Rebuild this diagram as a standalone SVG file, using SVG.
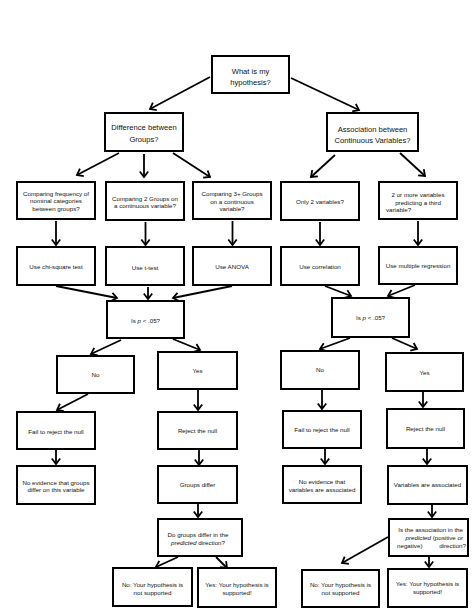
<svg xmlns="http://www.w3.org/2000/svg" width="474" height="613" viewBox="0 0 474 613">
<style>
rect{fill:#fff;stroke:#000;stroke-width:2}
text{font-family:"Liberation Sans",Arial,Helvetica,sans-serif;font-size:6.2px;fill:#111;text-anchor:middle}
.big{font-size:7.6px}
.it{font-style:italic}
#connectors line{stroke:#000;stroke-width:1.8;marker-end:url(#ah)}
</style>
<defs>
<marker id="ah" markerUnits="userSpaceOnUse" viewBox="-7 -6 9 12" refX="0" refY="0" markerWidth="9" markerHeight="12" orient="auto">
<path d="M-5.5,-4.2 L0,0 L-5.5,4.2" fill="none" stroke="#000" stroke-width="1.8" stroke-linejoin="miter"/>
</marker>
</defs>
<rect x="0" y="0" width="474" height="613" style="stroke:none;fill:#fff"/>

<g id="connectors">
<line x1="210" y1="77" x2="150" y2="109"/>
<line x1="291" y1="78" x2="359" y2="110"/>
<line x1="119" y1="153" x2="77" y2="175"/>
<line x1="144" y1="154" x2="144" y2="177"/>
<line x1="173" y1="153" x2="210" y2="177"/>
<line x1="335" y1="155" x2="311" y2="177"/>
<line x1="400" y1="153" x2="425" y2="176"/>
<line x1="56" y1="221" x2="56" y2="245"/>
<line x1="145.5" y1="222" x2="145.5" y2="245"/>
<line x1="232.5" y1="221" x2="232.5" y2="245"/>
<line x1="320" y1="222" x2="320" y2="245"/>
<line x1="418" y1="221" x2="418" y2="245"/>
<line x1="56" y1="286" x2="117" y2="298"/>
<line x1="148" y1="287" x2="148" y2="299"/>
<line x1="232" y1="286" x2="173" y2="298"/>
<line x1="325" y1="286" x2="351" y2="296"/>
<line x1="415" y1="285" x2="388" y2="296"/>
<line x1="121" y1="340" x2="91" y2="354"/>
<line x1="173" y1="339" x2="200" y2="350"/>
<line x1="350" y1="338" x2="320" y2="349"/>
<line x1="392" y1="338" x2="417" y2="349"/>
<line x1="88" y1="394" x2="57" y2="410"/>
<line x1="198" y1="390" x2="198" y2="410"/>
<line x1="322" y1="390" x2="322" y2="409"/>
<line x1="423" y1="392" x2="423" y2="407"/>
<line x1="56" y1="450" x2="56" y2="464"/>
<line x1="199" y1="450" x2="199" y2="465"/>
<line x1="325" y1="449" x2="325" y2="464"/>
<line x1="427" y1="449" x2="427" y2="464"/>
<line x1="198" y1="504" x2="198" y2="517"/>
<line x1="432" y1="505" x2="432" y2="517"/>
<line x1="178" y1="557" x2="156" y2="567"/>
<line x1="216" y1="557" x2="227" y2="568"/>
<line x1="388" y1="537" x2="342" y2="563"/>
<line x1="429" y1="557" x2="429" y2="567"/>
</g>

<g id="n-hypothesis"><rect x="212" y="56" width="77" height="37"/><text class="big" x="250.5" y="73.5">What is my</text><text class="big" x="250.5" y="84.5">hypothesis?</text></g>
<g id="n-difference"><rect x="105" y="113" width="78" height="38"/><text class="big" x="144" y="130.3">Difference between</text><text class="big" x="144" y="141.8">Groups?</text></g>
<g id="n-association"><rect x="327" y="113" width="91" height="38"/><text class="big" x="372.5" y="131.8">Association between</text><text class="big" x="372.5" y="142.6">Continuous Variables?</text></g>

<g id="n-cmp-freq"><rect x="17" y="182" width="78" height="37"/><text x="56" y="195.5">Comparing frequency of</text><text x="56" y="203">nominal categories</text><text x="56" y="210.5">between groups?</text></g>
<g id="n-cmp-2"><rect x="106" y="182" width="78" height="38"/><text x="145" y="200.5">Comparing 2 Groups on</text><text x="145" y="207.5">a continuous variable?</text></g>
<g id="n-cmp-3"><rect x="193" y="182" width="78" height="37"/><text x="232" y="196.2">Comparing 3+ Groups</text><text x="232" y="203.8">on a continuous</text><text x="232" y="210.5">variable?</text></g>
<g id="n-only2"><rect x="281" y="182" width="78" height="38"/><text x="320" y="203.9">Only 2 variables?</text></g>
<g id="n-multi"><rect x="379" y="182" width="78" height="37"/><text x="418" y="196.5">2 or more variables</text><text x="418" y="204.5">predicting a third</text><text x="386" y="212.2" style="text-anchor:start">variable?</text></g>

<g id="n-chi"><rect x="17" y="247" width="78" height="38"/><text x="56" y="268.9">Use chi-square test</text></g>
<g id="n-ttest"><rect x="106" y="247" width="78" height="38"/><text x="145" y="269.5">Use t-test</text></g>
<g id="n-anova"><rect x="193" y="247" width="78" height="38"/><text x="232" y="268.5">Use ANOVA</text></g>
<g id="n-corr"><rect x="281" y="247" width="78" height="38"/><text x="320" y="269">Use correlation</text></g>
<g id="n-mreg"><rect x="379" y="247" width="78" height="37"/><text x="418" y="268.2">Use multiple regression</text></g>

<g id="n-p-left"><rect x="107" y="301" width="77" height="37"/><text x="145.5" y="323">Is <tspan class="it">p</tspan> &lt; .05?</text></g>
<g id="n-p-right"><rect x="332" y="298" width="77" height="39"/><text x="370.5" y="320">Is <tspan class="it">p</tspan> &lt; .05?</text></g>

<g id="n-no-left"><rect x="57" y="356" width="77" height="37"/><text x="95.5" y="376.5">No</text></g>
<g id="n-yes-left"><rect x="158" y="352" width="79" height="37"/><text x="197.5" y="373.2">Yes</text></g>
<g id="n-no-right"><rect x="281" y="351" width="78" height="38"/><text x="320" y="372.2">No</text></g>
<g id="n-yes-right"><rect x="386" y="353" width="77" height="38"/><text x="424.5" y="374.5">Yes</text></g>

<g id="n-fail-left"><rect x="17" y="412" width="78" height="37"/><text x="56" y="433.9">Fail to reject the null</text></g>
<g id="n-reject-left"><rect x="158" y="412" width="79" height="37"/><text x="197.5" y="432.9">Reject the null</text></g>
<g id="n-fail-right"><rect x="283" y="411" width="78" height="37"/><text x="322" y="432.2">Fail to reject the null</text></g>
<g id="n-reject-right"><rect x="387" y="409" width="77" height="39"/><text x="425.5" y="430.9">Reject the null</text></g>

<g id="n-noev-left"><rect x="17" y="466" width="78" height="38"/><text x="56" y="484.5">No evidence that groups</text><text x="56" y="492.2">differ on this variable</text></g>
<g id="n-differ"><rect x="158" y="466" width="79" height="37"/><text x="197.5" y="487.2">Groups differ</text></g>
<g id="n-noev-right"><rect x="283" y="466" width="78" height="37"/><text x="322" y="483.9">No evidence that</text><text x="322" y="491.5">variables are associated</text></g>
<g id="n-associated"><rect x="388" y="466" width="79" height="38"/><text x="427.5" y="487.2">Variables are associated</text></g>

<g id="n-dir-left"><rect x="158" y="519" width="84" height="37"/><text x="198" y="536.5">Do groups differ in the</text><text x="198" y="544.9"><tspan class="it">predicted</tspan> direction?</text></g>
<g id="n-dir-right"><rect x="389" y="519" width="79" height="37"/><text x="463" y="531.5" style="text-anchor:end">Is the association in the</text><text x="463" y="539.9" style="text-anchor:end"><tspan class="it">predicted</tspan> (positive or</text><text x="397" y="547.9" style="text-anchor:start">negative)</text><text x="466" y="547.9" style="text-anchor:end">direction?</text></g>

<g id="n-nosup-left"><rect x="113" y="568" width="79" height="38"/><text x="152.5" y="587.2">No: Your hypothesis is</text><text x="152.5" y="594.5">not supported</text></g>
<g id="n-yessup-left"><rect x="198" y="568" width="78" height="39"/><text x="237" y="587.2">Yes: Your hypothesis is</text><text x="237" y="594.5">supported!</text></g>
<g id="n-nosup-right"><rect x="302" y="570" width="77" height="37"/><text x="340.5" y="587.2">No: Your hypothesis is</text><text x="340.5" y="594.5">not supported</text></g>
<g id="n-yessup-right"><rect x="388" y="569" width="79" height="38"/><text x="427.5" y="586.2">Yes: Your hypothesis is</text><text x="427.5" y="593.9">supported!</text></g>
</svg>
